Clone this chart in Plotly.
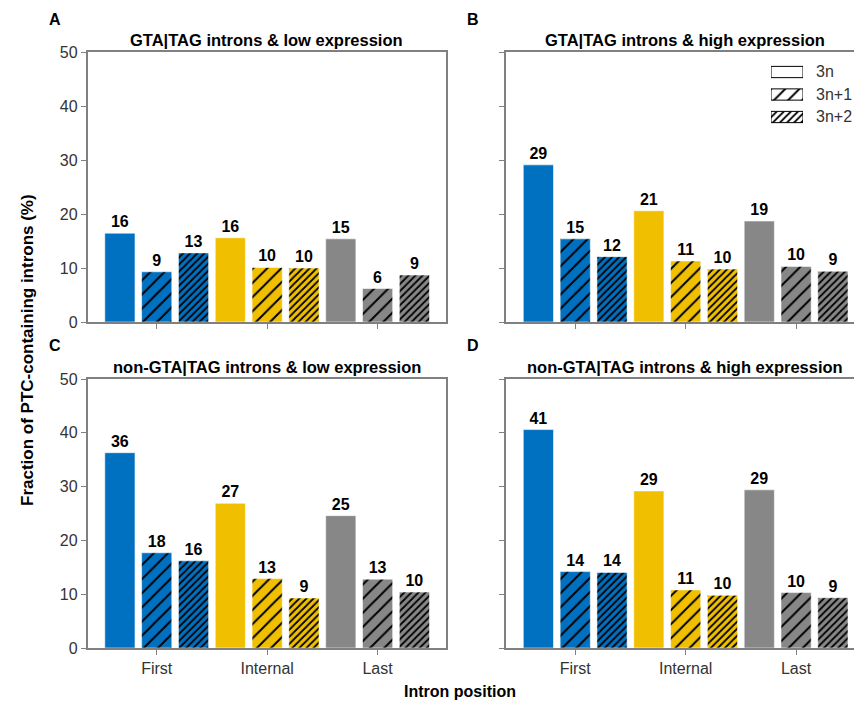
import plotly.graph_objects as go

# ---------------- data ----------------
positions = ["First", "Internal", "Last"]
frames = ["3n", "3n+1", "3n+2"]
panel_titles = [
    "GTA|TAG introns & low expression",
    "GTA|TAG introns & high expression",
    "non-GTA|TAG introns & low expression",
    "non-GTA|TAG introns & high expression",
]
panel_letters = ["A", "B", "C", "D"]

# order: First(3n, 3n+1, 3n+2), Internal(...), Last(...)
vals_A = [16.45, 9.3, 12.8, 15.6, 10.1, 10.0, 15.4, 6.2, 8.7]
vals_B = [29.1, 15.4, 12.1, 20.6, 11.3, 9.8, 18.7, 10.3, 9.4]
vals_C = [36.3, 17.7, 16.2, 26.9, 12.9, 9.3, 24.6, 12.8, 10.4]
vals_D = [40.6, 14.2, 14.05, 29.2, 10.8, 9.8, 29.4, 10.3, 9.35]
all_vals = [vals_A, vals_B, vals_C, vals_D]

y_ticks = [0, 10, 20, 30, 40, 50]

# ---------------- style ----------------
W, H = 854, 702
FONT = "Liberation Sans, Arial, sans-serif"
group_colors = ["#0070C0", "#F0C000", "#878787"]
patterns = [dict(shape=""), dict(shape="/", size=10, solidity=0.2),
            dict(shape="/", size=5, solidity=0.35)]
AXC = "#808080"
TXT = "#333333"


def fx(p):
    return p / W


def fy(p):
    return 1 - p / H


def make_pattern(f):
    pat = dict(patterns[f])
    if pat["shape"]:
        pat.update(fillmode="overlay", fgcolor="black", fgopacity=1)
    return pat


pxu = (445.7 - 87.5) / 9.73
boxes = [
    dict(x0=87.5, x1=445.7, y0=52, y1=322, ylab=True, xlab=False, right=True),
    dict(x0=506, x1=854, y0=52, y1=322, ylab=False, xlab=False, right=False),
    dict(x0=87.5, x1=445.7, y0=379, y1=648, ylab=True, xlab=True, right=True),
    dict(x0=506, x1=854, y0=379, y1=648, ylab=False, xlab=True, right=False),
]

fig = go.Figure()
layout = {}
annotations = []

for i, (vals, box) in enumerate(zip(all_vals, boxes)):
    n = i + 1
    xa = "x" if n == 1 else f"x{n}"
    ya = "y" if n == 1 else f"y{n}"
    for g, pos in enumerate(positions):
        for f, fr in enumerate(frames):
            v = vals[g * 3 + f]
            fig.add_trace(go.Bar(
                x=[g * 3 + f], y=[v], xaxis=xa, yaxis=ya, width=0.82,
                marker=dict(color=group_colors[g], pattern=make_pattern(f),
                            line=dict(color="rgba(255,255,255,0.7)", width=0.8)),
                text=[f"{round(v)}"], textposition="outside",
                textfont=dict(family=FONT, size=16, color="black", weight="bold"),
                cliponaxis=False, showlegend=False, name=f"{pos} {fr}",
            ))
    x_lo = -0.88
    x_hi = x_lo + (box["x1"] - box["x0"]) / pxu
    layout["xaxis" if n == 1 else f"xaxis{n}"] = dict(
        domain=[fx(box["x0"]), fx(box["x1"])], range=[x_lo, x_hi],
        anchor=ya, tickvals=[1, 4, 7], ticktext=positions,
        showticklabels=box["xlab"], ticks="outside", ticklen=5,
        tickcolor=AXC, showline=True, linecolor=AXC, linewidth=1.5,
        mirror=True, showgrid=False, zeroline=False, automargin=False,
        tickfont=dict(family=FONT, size=16, color=TXT),
    )
    layout["yaxis" if n == 1 else f"yaxis{n}"] = dict(
        domain=[fy(box["y1"]), fy(box["y0"])], range=[0, 50],
        anchor=xa, tickvals=y_ticks, showticklabels=box["ylab"],
        ticks="outside", ticklen=5, tickcolor=AXC, showline=True,
        linecolor=AXC, linewidth=1.5, mirror=box["right"], automargin=False,
        showgrid=False, zeroline=False,
        tickfont=dict(family=FONT, size=16, color=TXT),
    )
    cx = box["x0"] + (445.7 - 87.5) / 2
    annotations.append(dict(
        text=panel_titles[i], x=fx(cx), y=fy(box["y0"] - 12),
        xref="paper", yref="paper", xanchor="center", yanchor="middle",
        showarrow=False, font=dict(family=FONT, size=16.5, color="black", weight="bold")))
    annotations.append(dict(
        text=panel_letters[i], x=fx(box["x0"] - 41), y=fy(box["y0"] - 33),
        xref="paper", yref="paper", xanchor="left", yanchor="middle",
        showarrow=False, font=dict(family=FONT, size=16, color="black", weight="bold")))

# custom legend (pattern boxes) in panel B
for f, fr in enumerate(frames):
    fig.add_trace(go.Bar(
        x=[1], y=[f], orientation="h", xaxis="x5", yaxis="y5", width=0.5,
        marker=dict(color="white", pattern=make_pattern(f),
                    line=dict(color="black", width=1)),
        showlegend=False, hoverinfo="skip",
    ))
    annotations.append(dict(
        text=fr, x=fx(814), y=fy(72 + 22.5 * f), xref="paper", yref="paper",
        xanchor="left", yanchor="middle", showarrow=False,
        font=dict(family=FONT, size=16, color=TXT)))
layout["xaxis5"] = dict(domain=[fx(771), fx(803)], range=[0, 1], anchor="y5",
                        visible=False, fixedrange=True, automargin=False)
layout["yaxis5"] = dict(domain=[fy(128.25), fy(60.75)], range=[2.5, -0.5],
                        anchor="x5", visible=False, fixedrange=True, automargin=False)

annotations.append(dict(
    text="Fraction of PTC-containing introns (%)", x=fx(27), y=fy(350),
    xref="paper", yref="paper", textangle=-90, xanchor="center", yanchor="middle",
    showarrow=False, font=dict(family=FONT, size=17, color="black", weight="bold")))
annotations.append(dict(
    text="Intron position", x=fx(460), y=fy(691),
    xref="paper", yref="paper", xanchor="center", yanchor="middle",
    showarrow=False, font=dict(family=FONT, size=16, color="black", weight="bold")))

fig.update_layout(
    width=W, height=H, autosize=False,
    margin=dict(l=0, r=0, t=0, b=0, pad=0, autoexpand=False),
    paper_bgcolor="white", plot_bgcolor="white", barmode="overlay",
    annotations=annotations, **layout,
)
fig.write_html(
    "out.html",
    config={"displayModeBar": False},
    post_script="document.body.style.margin='0';document.body.style.overflow='hidden';",
)
